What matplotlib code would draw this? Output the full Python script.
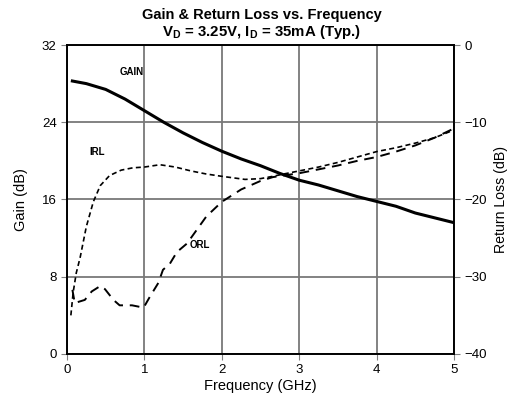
import matplotlib
matplotlib.use("Agg")
import matplotlib.pyplot as plt

# Gain (left axis, dB)
gain_freq = [0.05, 0.25, 0.5, 0.75, 1.0, 1.25, 1.5, 1.75, 2.0, 2.25, 2.5,
             2.75, 3.0, 3.25, 3.5, 3.75, 4.0, 4.25, 4.5, 4.75, 5.0]
gain_db = [28.3, 28.0, 27.4, 26.4, 25.2, 24.0, 22.9, 21.9, 21.0, 20.2, 19.5,
           18.7, 18.0, 17.5, 16.9, 16.3, 15.8, 15.3, 14.6, 14.1, 13.6]

# Input return loss (right axis, dB)
irl_freq = [0.05, 0.08, 0.12, 0.17, 0.25, 0.34, 0.43, 0.55, 0.7, 0.85, 1.0,
            1.2, 1.4, 1.6, 1.8, 2.0, 2.3, 2.5, 2.66, 2.8, 3.0, 3.25, 3.5,
            3.75, 4.0, 4.25, 4.5, 4.75, 5.0]
irl_db = [-35.0, -32.0, -29.5, -27.5, -23.5, -20.3, -18.2, -16.9, -16.2,
          -15.9, -15.8, -15.5, -15.8, -16.3, -16.7, -17.0, -17.4, -17.3,
          -17.0, -16.7, -16.3, -15.8, -15.2, -14.5, -13.8, -13.3, -12.7,
          -12.0, -11.0]

# Output return loss (right axis, dB)
orl_freq = [0.07, 0.1, 0.23, 0.32, 0.43, 0.49, 0.6, 0.68, 0.84, 0.99, 1.07,
            1.18, 1.24, 1.33, 1.42, 1.55, 1.8, 2.0, 2.25, 2.5, 2.66, 3.0,
            3.25, 3.5, 3.75, 4.0, 4.25, 4.5, 4.75, 5.0]
orl_db = [-31.7, -33.4, -33.0, -31.9, -31.2, -31.6, -33.0, -33.7, -33.7,
          -34.0, -32.6, -30.8, -29.1, -28.3, -26.8, -25.7, -22.2, -20.3,
          -18.7, -17.6, -17.1, -16.6, -16.1, -15.6, -15.0, -14.5, -13.8,
          -13.0, -12.0, -10.8]

x_ticks = [0, 1, 2, 3, 4, 5]
gain_ticks = [0, 8, 16, 24, 32]
rl_ticks = [-40, -30, -20, -10, 0]

plt.rcParams["font.family"] = ["Liberation Sans", "DejaVu Sans"]
plt.rcParams["mathtext.default"] = "regular"

fig = plt.figure(figsize=(5.13, 4.04), dpi=100)
ax = fig.add_axes([0.1306, 0.1238, 0.7544, 0.7648])
twin = ax.twinx()

ax.plot(gain_freq, gain_db, color="black", lw=2.2, solid_capstyle="butt")
twin.plot(irl_freq, irl_db, color="black", lw=1.2, dashes=(3, 2))
twin.plot(orl_freq, orl_db, color="black", lw=1.4, dashes=(5, 3.5))

ax.set_xlim(0, 5)
ax.set_ylim(0, 32)
twin.set_ylim(-40, 0)
ax.set_xticks(x_ticks)
ax.set_yticks(gain_ticks)
twin.set_yticks(rl_ticks)

ax.grid(True, color="#787878", lw=1.3)
ax.set_axisbelow(True)
for a in (ax, twin):
    for sp in a.spines.values():
        sp.set_linewidth(1.2)
    a.tick_params(direction="out", length=4.5, width=0.8, color="#808080",
                  labelsize=9.5, pad=3)

ax.set_xlabel("Frequency (GHz)", fontsize=10.5, labelpad=2)
ax.set_ylabel("Gain (dB)", fontsize=10.5, labelpad=10)
twin.set_ylabel("Return Loss (dB)", fontsize=10.2, labelpad=5)

ax.text(0.84, 29.2, "GAIN", fontsize=7, fontweight="bold", ha="center", va="center")
ax.text(0.39, 20.9, "IRL", fontsize=7, fontweight="bold", ha="center", va="center")
ax.text(1.72, 11.3, "ORL", fontsize=7, fontweight="bold", ha="center", va="center")

fig.text(0.51, 0.963, "Gain & Return Loss vs. Frequency", fontsize=10.5,
         fontweight="bold", ha="center", va="center")
fig.text(0.51, 0.92, "V$_D$ = 3.25V, I$_D$ = 35mA (Typ.)", fontsize=10.8,
         fontweight="bold", ha="center", va="center")

fig.savefig("out.png", dpi=100)
